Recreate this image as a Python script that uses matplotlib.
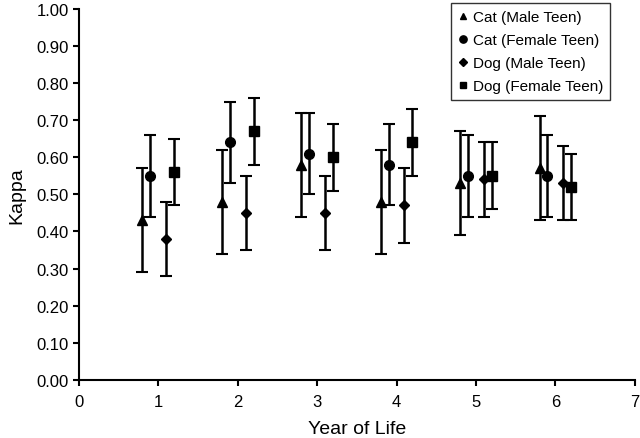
import matplotlib
matplotlib.use("Agg")
import matplotlib.pyplot as plt
from matplotlib.lines import Line2D
import numpy as np

plt.rcParams['font.family'] = ['Liberation Sans', 'DejaVu Sans']

years = [1, 2, 3, 4, 5, 6]
series_names = ["Cat (Male Teen)", "Cat (Female Teen)", "Dog (Male Teen)", "Dog (Female Teen)"]

cat_male = [0.43, 0.48, 0.58, 0.48, 0.53, 0.57]
cat_male_lo = [0.29, 0.34, 0.44, 0.34, 0.39, 0.43]
cat_male_hi = [0.57, 0.62, 0.72, 0.62, 0.67, 0.71]

cat_female = [0.55, 0.64, 0.61, 0.58, 0.55, 0.55]
cat_female_lo = [0.44, 0.53, 0.50, 0.47, 0.44, 0.44]
cat_female_hi = [0.66, 0.75, 0.72, 0.69, 0.66, 0.66]

dog_male = [0.38, 0.45, 0.45, 0.47, 0.54, 0.53]
dog_male_lo = [0.28, 0.35, 0.35, 0.37, 0.44, 0.43]
dog_male_hi = [0.48, 0.55, 0.55, 0.57, 0.64, 0.63]

dog_female = [0.56, 0.67, 0.60, 0.64, 0.55, 0.52]
dog_female_lo = [0.47, 0.58, 0.51, 0.55, 0.46, 0.43]
dog_female_hi = [0.65, 0.76, 0.69, 0.73, 0.64, 0.61]

offsets = [-0.2, -0.1, 0.1, 0.2]
markers = ['^', 'o', 'D', 's']
msizes = [6.5, 7, 5, 6.5]

fig = plt.figure(figsize=(6.4, 4.39), dpi=100)
ax = fig.add_axes([0.123, 0.132, 0.869, 0.846])

data = [(cat_male, cat_male_lo, cat_male_hi),
        (cat_female, cat_female_lo, cat_female_hi),
        (dog_male, dog_male_lo, dog_male_hi),
        (dog_female, dog_female_lo, dog_female_hi)]

handles = []
for (vals, lo, hi), off, m, ms, name in zip(data, offsets, markers, msizes, series_names):
    x = np.array(years) + off
    v = np.array(vals)
    yerr = np.vstack([v - np.array(lo), np.array(hi) - v])
    ax.errorbar(x, v, yerr=yerr, fmt=m, color='black', ms=ms, elinewidth=1.8,
                capsize=4.5, capthick=1.5, zorder=3)
    handles.append(Line2D([], [], marker=m, color='black', linestyle='none',
                          markersize=ms * 0.75, label=name))

ax.set_xlim(0, 7)
ax.set_ylim(0, 1.0)
ax.set_xticks(range(0, 8))
ax.set_yticks(np.arange(0, 1.01, 0.1))
ax.set_yticklabels([f"{t:.2f}" for t in np.arange(0, 1.01, 0.1)])
ax.spines['top'].set_visible(False)
ax.spines['right'].set_visible(False)
ax.spines['left'].set_linewidth(1.5)
ax.spines['bottom'].set_linewidth(1.5)
ax.tick_params(axis='both', direction='out', length=4, width=1.5, labelsize=12, colors='black')
ax.tick_params(axis='x', pad=6)
ax.tick_params(axis='y', pad=3)

ax.set_xlabel("Year of Life", fontsize=14, labelpad=8)
ax.set_ylabel("Kappa", fontsize=14, labelpad=8)

leg = ax.legend(handles=handles, loc='upper right', bbox_to_anchor=(0.955, 1.015),
                fontsize=11, frameon=True, fancybox=False, edgecolor='black',
                handlelength=0.6, handletextpad=0.35, borderpad=0.45, labelspacing=0.6,
                borderaxespad=0.0)
leg.get_frame().set_linewidth(1.0)

fig.savefig("out.png", dpi=100)
